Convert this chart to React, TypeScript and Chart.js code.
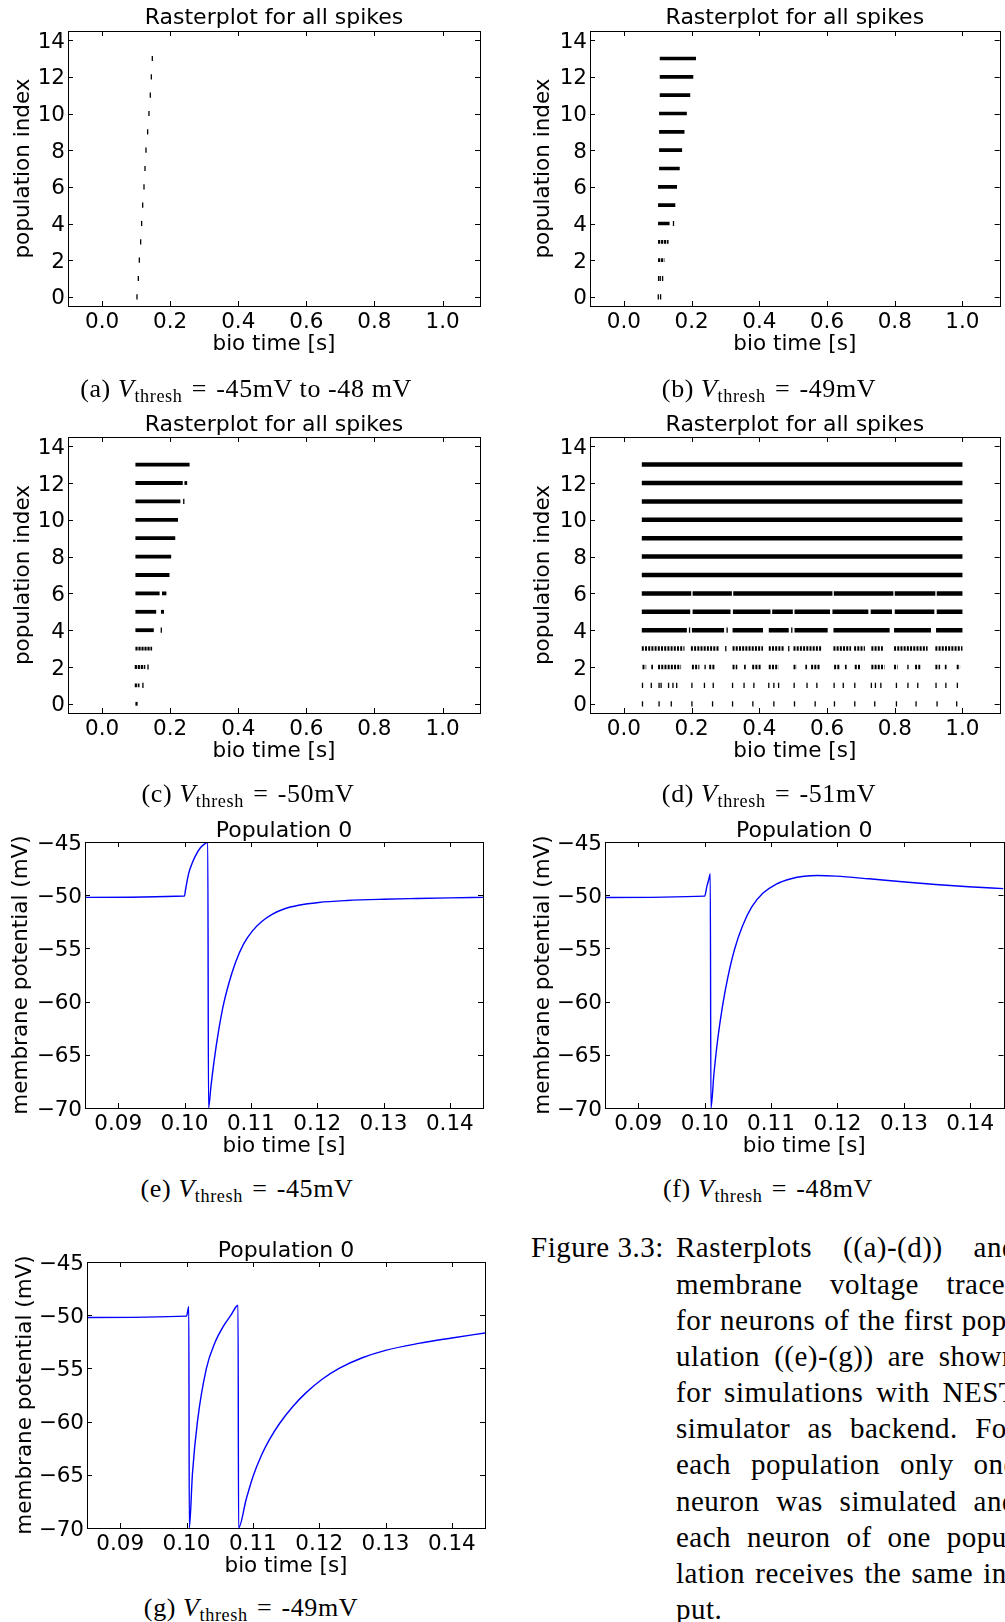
import React, { useEffect, useRef } from "react";
import { Chart, registerables } from "chart.js";

Chart.register(...registerables);

const PLOT_FONT = "'DejaVu Sans', sans-serif";
const TEXT_FONT = "'Liberation Serif', 'Times New Roman', serif";

// ---------------- tick values / labels ----------------
const RASTER_X_TICKS = [0, 0.2, 0.4, 0.6, 0.8, 1.0];
const RASTER_X_LABELS = ["0.0", "0.2", "0.4", "0.6", "0.8", "1.0"];
const RASTER_Y_TICKS = [0, 2, 4, 6, 8, 10, 12, 14];
const RASTER_Y_LABELS = ["0", "2", "4", "6", "8", "10", "12", "14"];
const TRACE_X_TICKS = [0.09, 0.1, 0.11, 0.12, 0.13, 0.14];
const TRACE_X_LABELS = ["0.09", "0.10", "0.11", "0.12", "0.13", "0.14"];
const TRACE_Y_TICKS = [-70, -65, -60, -55, -50, -45];
const TRACE_Y_LABELS = ["\u221270", "\u221265", "\u221260", "\u221255", "\u221250", "\u221245"];

// ---------------- raster data: [population, time] spikes, [population, start, end] dense runs ----------------
const RASTER_A_SPIKES: [number, number][] = [
  [0, 0.1026], [1, 0.1066], [2, 0.1095], [3, 0.1134], [4, 0.1163], [5, 0.1193], [6, 0.1232],
  [7, 0.1261], [8, 0.129], [9, 0.1339], [10, 0.1378], [11, 0.1417], [12, 0.1447], [13, 0.1476],
];
const RASTER_A_BURSTS: [number, number, number][] = [];

const RASTER_B_SPIKES: [number, number][] = [
  [0, 0.1017], [0, 0.1085], [1, 0.1026], [1, 0.1075], [1, 0.1144], [4, 0.1466],
];
const RASTER_B_BURSTS: [number, number, number][] = [
  [2, 0.101, 0.12], [3, 0.101, 0.132], [4, 0.101, 0.135], [5, 0.101, 0.152], [6, 0.101, 0.157],
  [7, 0.104, 0.165], [8, 0.104, 0.172], [9, 0.104, 0.179], [10, 0.104, 0.186],
  [11, 0.106, 0.196], [12, 0.106, 0.205], [13, 0.106, 0.213],
];

const RASTER_C_SPIKES: [number, number][] = [
  [1, 0.12], [2, 0.135], [4, 0.174], [11, 0.24],
];
const RASTER_C_BURSTS: [number, number, number][] = [
  [0, 0.098, 0.106], [1, 0.096, 0.11], [2, 0.096, 0.127], [3, 0.098, 0.147], [4, 0.098, 0.152],
  [5, 0.098, 0.159], [5, 0.173, 0.182], [6, 0.098, 0.169], [6, 0.176, 0.189], [7, 0.098, 0.198],
  [8, 0.098, 0.203], [9, 0.098, 0.215], [10, 0.098, 0.223], [11, 0.098, 0.23], [12, 0.098, 0.237],
  [12, 0.242, 0.25], [13, 0.098, 0.257],
];

const RASTER_D_SPIKES: [number, number][] = [
  [0, 0.055], [0, 0.104], [0, 0.14], [0, 0.201], [0, 0.262], [0, 0.321], [0, 0.381], [0, 0.443],
  [0, 0.504], [0, 0.565], [0, 0.622], [0, 0.682], [0, 0.741], [0, 0.805], [0, 0.863], [0, 0.925], [0, 0.983],
  [1, 0.055], [1, 0.081], [1, 0.104], [1, 0.11], [1, 0.132], [1, 0.145], [1, 0.156], [1, 0.201],
  [1, 0.238], [1, 0.264], [1, 0.321], [1, 0.355], [1, 0.384], [1, 0.428], [1, 0.443], [1, 0.457],
  [1, 0.503], [1, 0.541], [1, 0.57], [1, 0.621], [1, 0.648], [1, 0.682], [1, 0.731], [1, 0.743],
  [1, 0.759], [1, 0.805], [1, 0.839], [1, 0.868], [1, 0.922], [1, 0.951], [1, 0.985],
  [3, 0.301], [3, 0.487], [4, 0.194], [4, 0.305], [4, 0.496],
];
const RASTER_D_BURSTS: [number, number, number][] = [
  [2, 0.055, 0.066], [2, 0.081, 0.086], [2, 0.101, 0.169], [2, 0.201, 0.223], [2, 0.238, 0.242],
  [2, 0.252, 0.27], [2, 0.321, 0.335], [2, 0.355, 0.36], [2, 0.379, 0.404], [2, 0.428, 0.457],
  [2, 0.501, 0.511], [2, 0.536, 0.541], [2, 0.553, 0.58], [2, 0.621, 0.638], [2, 0.653, 0.658],
  [2, 0.682, 0.7], [2, 0.731, 0.77], [2, 0.798, 0.809], [2, 0.837, 0.841], [2, 0.86, 0.878],
  [2, 0.92, 0.934], [2, 0.948, 0.953], [2, 0.983, 0.993],
  [3, 0.053, 0.179], [3, 0.198, 0.283], [3, 0.321, 0.411], [3, 0.428, 0.475], [3, 0.501, 0.585],
  [3, 0.619, 0.671], [3, 0.68, 0.712], [3, 0.731, 0.765], [3, 0.798, 0.897], [3, 0.92, 1.0],
  [4, 0.053, 0.186], [4, 0.201, 0.296], [4, 0.321, 0.411], [4, 0.428, 0.487], [4, 0.504, 0.602],
  [4, 0.619, 0.785], [4, 0.798, 0.907], [4, 0.922, 1.0],
  [5, 0.053, 0.196], [5, 0.203, 0.315], [5, 0.322, 0.433], [5, 0.438, 0.499], [5, 0.504, 0.609],
  [5, 0.616, 0.722], [5, 0.729, 0.792], [5, 0.8, 0.917], [5, 0.924, 1.0],
  [6, 0.053, 0.199], [6, 0.203, 0.319], [6, 0.323, 0.616], [6, 0.62, 0.796], [6, 0.8, 0.92], [6, 0.924, 1.0],
  [7, 0.053, 1.0], [8, 0.053, 1.0], [9, 0.053, 1.0], [10, 0.053, 1.0], [11, 0.053, 1.0],
  [12, 0.053, 1.0], [13, 0.053, 1.0],
];

// ---------------- membrane traces: time [s], potential [mV] ----------------
const E_TIME = [0.085, 0.1, 0.10015, 0.10065, 0.10115, 0.10165, 0.1024, 0.10316, 0.10351, 0.10362, 0.104, 0.1045, 0.1051, 0.1058, 0.10668, 0.1077, 0.1089, 0.11019, 0.1116, 0.1132, 0.115, 0.1172, 0.12023, 0.1245, 0.13, 0.135, 0.14, 0.145];
const E_VOLT = [-50.2, -50.07, -49.5, -47.9, -47.0, -46.3, -45.54, -45.13, -45.0, -70, -67.9, -65.4, -62.9, -60.5, -58.3, -56.3, -54.6, -53.4, -52.5, -51.8, -51.3, -50.95, -50.68, -50.5, -50.38, -50.31, -50.25, -50.2];

const F_TIME = [0.085, 0.1, 0.10035, 0.10065, 0.10085, 0.10095, 0.1014, 0.102, 0.1027, 0.1035, 0.1045, 0.1057, 0.1071, 0.1088, 0.1108, 0.113, 0.115, 0.117, 0.1198, 0.12475, 0.12975, 0.13475, 0.13975, 0.145];
const F_VOLT = [-50.22, -50.09, -49.15, -48.46, -47.99, -70, -66.8, -63.4, -60.4, -57.7, -55.1, -52.9, -51.1, -49.8, -48.95, -48.45, -48.22, -48.15, -48.21, -48.46, -48.74, -48.99, -49.21, -49.38];

const G_TIME = [0.085, 0.1, 0.10035, 0.10042, 0.1009, 0.10165, 0.103, 0.10426, 0.1055, 0.1067, 0.10777, 0.10785, 0.109, 0.11, 0.1112, 0.1125, 0.114, 0.116, 0.118, 0.1205, 0.123, 0.1265, 0.13, 0.135, 0.14, 0.145];
const G_VOLT = [-50.22, -50.09, -49.2, -70, -64.85, -60.0, -55.0, -52.61, -51.1, -50.0, -49.06, -70, -67.3, -65.2, -63.3, -61.7, -60.2, -58.6, -57.3, -56.0, -55.0, -54.0, -53.3, -52.65, -52.14, -51.67];

// ---------------- captions ----------------
const SUB_TAGS = ["(a)", "(b)", "(c)", "(d)", "(e)", "(f)", "(g)"];
const SUB_VALUES = ["-45mV to -48 mV", "-49mV", "-50mV", "-51mV", "-45mV", "-48mV", "-49mV"];
const FIGURE_LABEL = "Figure 3.3:";
const FIGURE_LINES = [
  "Rasterplots ((a)-(d)) and",
  "membrane voltage traces",
  "for neurons of the first pop-",
  "ulation ((e)-(g)) are shown",
  "for simulations with NEST",
  "simulator as backend. For",
  "each population only one",
  "neuron was simulated and",
  "each neuron of one popu-",
  "lation receives the same in-",
  "put.",
];

// ---------------- layout ----------------
interface Geo {
  x: number; y: number; w: number; h: number;
  yW: number; xH: number; padR: number; padB: number;
  tTop: number; tBot: number; yPad: number;
}

interface PanelSpec {
  kind: "raster" | "trace";
  title: string;
  geo: Geo;
  bursts?: [number, number, number][];
  spikes?: [number, number][];
  burstWidth?: number;
  dashBelow?: number;
  dash?: number[];
  times?: number[];
  volts?: number[];
}

const PANELS: PanelSpec[] = [
  { kind: "raster", title: "Rasterplot for all spikes", bursts: RASTER_A_BURSTS, spikes: RASTER_A_SPIKES, burstWidth: 4,
    dashBelow: 3, dash: [2, 1.2],
    geo: { x: 0, y: 0, w: 490, h: 360, yW: 68, xH: 51.5, padR: 10, padB: 2.5, tTop: 5.3, tBot: -0.7, yPad: 10.8 } },
  { kind: "raster", title: "Rasterplot for all spikes", bursts: RASTER_B_BURSTS, spikes: RASTER_B_SPIKES, burstWidth: 3.6,
    dashBelow: 3, dash: [2.2, 0.8],
    geo: { x: 500, y: 0, w: 505, h: 360, yW: 90, xH: 51.5, padR: 2, padB: 2.5, tTop: 5.3, tBot: -0.7, yPad: 30.1 } },
  { kind: "raster", title: "Rasterplot for all spikes", bursts: RASTER_C_BURSTS, spikes: RASTER_C_SPIKES, burstWidth: 3.8,
    dashBelow: 3, dash: [2.2, 0.8],
    geo: { x: 0, y: 400, w: 490, h: 365, yW: 68, xH: 51.5, padR: 10, padB: 0.5, tTop: 12.5, tBot: -1.9, yPad: 10.1 } },
  { kind: "raster", title: "Rasterplot for all spikes", bursts: RASTER_D_BURSTS, spikes: RASTER_D_SPIKES, burstWidth: 4.5,
    dashBelow: 3, dash: [2, 1.2],
    geo: { x: 500, y: 400, w: 505, h: 365, yW: 90, xH: 51.5, padR: 2, padB: 0.5, tTop: 12.5, tBot: -1.9, yPad: 30.1 } },
  { kind: "trace", title: "Population 0", times: E_TIME, volts: E_VOLT,
    geo: { x: 0, y: 805, w: 490, h: 355, yW: 85, xH: 51.5, padR: 7, padB: 0.5, tTop: 12.6, tBot: -2, yPad: 8.8 } },
  { kind: "trace", title: "Population 0", times: F_TIME, volts: F_VOLT,
    geo: { x: 500, y: 805, w: 505, h: 355, yW: 105, xH: 51.5, padR: 1.5, padB: 0.5, tTop: 12.6, tBot: -2, yPad: 30.4 } },
  { kind: "trace", title: "Population 0", times: G_TIME, volts: G_VOLT,
    geo: { x: 0, y: 1225, w: 495, h: 355, yW: 87, xH: 51.5, padR: 10, padB: 0.5, tTop: 12.6, tBot: -2, yPad: 12.6 } },
];

const SUB_POS = [
  { cx: 246, cy: 389 }, { cx: 769, cy: 389 },
  { cx: 248, cy: 794 }, { cx: 769, cy: 794 },
  { cx: 247, cy: 1189 }, { cx: 768, cy: 1189 },
  { cx: 251, cy: 1608 },
];

// ---------------- matplotlib-like frame with inward ticks ----------------
const framePlugin = {
  id: "mplFrame",
  afterDatasetsDraw(chart: any) {
    const { ctx, chartArea: a, scales } = chart;
    const L = 5;
    ctx.save();
    ctx.strokeStyle = "#000";
    ctx.lineWidth = 1;
    ctx.beginPath();
    for (const t of scales.x.ticks) {
      const px = Math.round(scales.x.getPixelForValue(t.value)) + 0.5;
      ctx.moveTo(px, a.bottom); ctx.lineTo(px, a.bottom - L);
      ctx.moveTo(px, a.top); ctx.lineTo(px, a.top + L);
    }
    for (const t of scales.y.ticks) {
      const py = Math.round(scales.y.getPixelForValue(t.value)) + 0.5;
      ctx.moveTo(a.left, py); ctx.lineTo(a.left + L, py);
      ctx.moveTo(a.right, py); ctx.lineTo(a.right - L, py);
    }
    ctx.stroke();
    ctx.strokeRect(Math.round(a.left) + 0.5, Math.round(a.top) + 0.5, Math.round(a.right - a.left), Math.round(a.bottom - a.top));
    ctx.restore();
  },
};

function buildConfig(spec: PanelSpec): any {
  const raster = spec.kind === "raster";
  const g = spec.geo;
  const datasets: any[] = [];
  if (raster) {
    const runData: any[] = [];
    (spec.bursts || []).forEach(([p, s, e]) => {
      runData.push({ x: s, y: p }, { x: e, y: p }, { x: e, y: null });
    });
    const dashBelow = spec.dashBelow ?? 3;
    const dash = spec.dash || [2, 1.2];
    datasets.push({
      type: "line",
      data: runData,
      borderColor: "#000",
      borderWidth: spec.burstWidth,
      pointRadius: 0,
      spanGaps: false,
      borderCapStyle: "butt",
      segment: { borderDash: (c: any) => (c.p0.parsed.y <= dashBelow ? dash : undefined) },
    });
    datasets.push({
      type: "scatter",
      data: (spec.spikes || []).map(([p, t]) => ({ x: t, y: p })),
      pointStyle: "line",
      rotation: 90,
      pointRadius: 2.6,
      borderColor: "#000",
      backgroundColor: "#000",
      borderWidth: 1.3,
    });
  } else {
    const t = spec.times || [];
    const v = spec.volts || [];
    datasets.push({
      type: "line",
      data: t.map((tt, i) => ({ x: tt, y: v[i] })),
      borderColor: "#0000ff",
      borderWidth: 1.4,
      pointRadius: 0,
      cubicInterpolationMode: "monotone",
    });
  }

  const xTicks = raster ? RASTER_X_TICKS : TRACE_X_TICKS;
  const xLabels = raster ? RASTER_X_LABELS : TRACE_X_LABELS;
  const yTicks = raster ? RASTER_Y_TICKS : TRACE_Y_TICKS;
  const yLabels = raster ? RASTER_Y_LABELS : TRACE_Y_LABELS;
  const tickFont = { family: PLOT_FONT, size: 21.5 };

  return {
    type: "line",
    data: { datasets },
    plugins: [framePlugin],
    options: {
      responsive: false,
      animation: false,
      events: [],
      layout: { padding: { left: 0, top: 0, right: g.padR, bottom: g.padB } },
      plugins: {
        legend: { display: false },
        tooltip: { enabled: false },
        title: {
          display: true,
          text: spec.title,
          color: "#000",
          fullSize: false,
          font: { family: PLOT_FONT, size: 22, weight: "normal" },
          padding: { top: g.tTop, bottom: g.tBot },
        },
      },
      scales: {
        x: {
          type: "linear",
          min: raster ? -0.1 : 0.085,
          max: raster ? 1.11 : 0.145,
          bounds: "data",
          afterBuildTicks: (s: any) => { s.ticks = xTicks.map((v) => ({ value: v })); },
          afterFit: (s: any) => { s.height = g.xH; },
          grid: { display: false, drawTicks: false },
          border: { display: false },
          ticks: {
            autoSkip: false, maxRotation: 0, minRotation: 0, padding: 4, color: "#000", font: tickFont,
            callback: (_v: any, i: number) => xLabels[i],
          },
          title: { display: true, text: "bio time [s]", color: "#000", font: tickFont, padding: 0 },
        },
        y: {
          type: "linear",
          min: raster ? -0.5 : -70,
          max: raster ? 14.5 : -45,
          bounds: "data",
          afterBuildTicks: (s: any) => { s.ticks = yTicks.map((v) => ({ value: v })); },
          afterFit: (s: any) => { s.width = g.yW; },
          grid: { display: false, drawTicks: false },
          border: { display: false },
          ticks: {
            autoSkip: false, padding: 3, labelOffset: 2, color: "#000", font: tickFont,
            callback: (_v: any, i: number) => yLabels[i],
          },
          title: {
            display: true,
            text: raster ? "population index" : "membrane potential (mV)",
            color: "#000",
            font: tickFont,
            padding: { top: g.yPad, bottom: 0 },
          },
        },
      },
    },
  };
}

function Panel({ spec }: { spec: PanelSpec }) {
  const ref = useRef<HTMLCanvasElement>(null);
  useEffect(() => {
    const chart = new Chart(ref.current as HTMLCanvasElement, buildConfig(spec));
    return () => chart.destroy();
  }, [spec]);
  const g = spec.geo;
  return (
    <canvas
      ref={ref}
      width={g.w}
      height={g.h}
      style={{ position: "absolute", left: g.x, top: g.y, width: g.w, height: g.h }}
    />
  );
}

function SubCaption({ i }: { i: number }) {
  const p = SUB_POS[i];
  return (
    <div
      style={{
        position: "absolute", left: p.cx, top: p.cy, transform: "translate(-50%, -50%)",
        whiteSpace: "nowrap", fontFamily: TEXT_FONT, fontSize: 26, letterSpacing: "0.6px",
        lineHeight: 1, color: "#000",
      }}
    >
      {SUB_TAGS[i]}{" "}
      <span style={{ fontStyle: "italic" }}>V</span>
      <span style={{ fontSize: "70%", position: "relative", top: "0.28em" }}>thresh</span>
      {"\u2004=\u2004"}{SUB_VALUES[i]}
    </div>
  );
}

const CAP_TOP = 1229.4;
const CAP_LH = 36.17;

export default function App() {
  return (
    <div
      style={{
        position: "absolute", left: 0, top: 0, width: 1005, height: 1622,
        overflow: "hidden", background: "#fff",
      }}
    >
      {PANELS.map((s, i) => (
        <Panel key={i} spec={s} />
      ))}
      {SUB_TAGS.map((_t, i) => (
        <SubCaption key={i} i={i} />
      ))}
      <div
        style={{
          position: "absolute", left: 531, top: CAP_TOP, fontFamily: TEXT_FONT, fontSize: 29,
          letterSpacing: "0.5px", lineHeight: `${CAP_LH}px`, whiteSpace: "nowrap", color: "#000",
        }}
      >
        {FIGURE_LABEL}
      </div>
      {FIGURE_LINES.map((line, i) => {
        const last = i === FIGURE_LINES.length - 1;
        return (
          <div
            key={i}
            style={{
              position: "absolute", left: 676, top: CAP_TOP + i * CAP_LH, width: 341,
              display: "flex", justifyContent: last ? "flex-start" : "space-between",
              fontFamily: TEXT_FONT, fontSize: 29, letterSpacing: "0.5px",
              lineHeight: `${CAP_LH}px`, color: "#000",
            }}
          >
            {line.split(" ").map((w, j) => (
              <span key={j} style={{ whiteSpace: "nowrap" }}>{w}</span>
            ))}
          </div>
        );
      })}
    </div>
  );
}
